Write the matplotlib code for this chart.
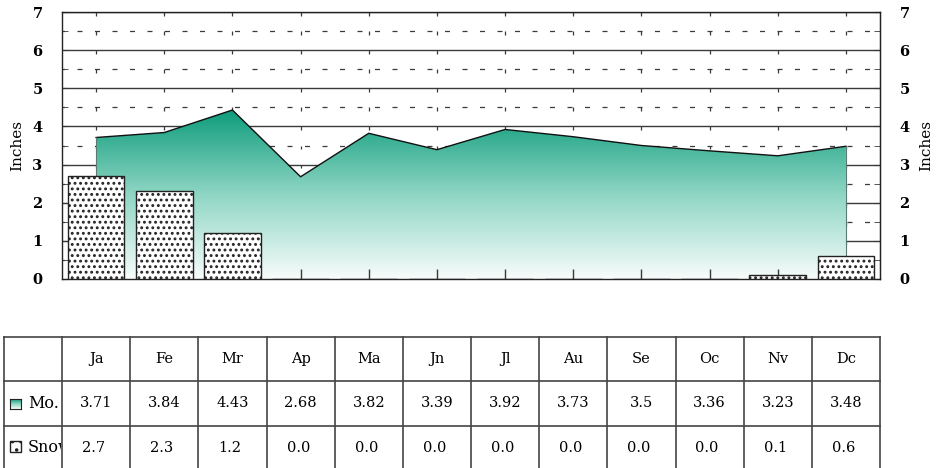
import numpy as np
import matplotlib.pyplot as plt
from matplotlib.colors import LinearSegmentedColormap
from matplotlib.patches import Polygon, Rectangle
from matplotlib.transforms import Bbox, TransformedBbox

months = ["Ja", "Fe", "Mr", "Ap", "Ma", "Jn", "Jl", "Au", "Se", "Oc", "Nv", "Dc"]
monthly = [3.71, 3.84, 4.43, 2.68, 3.82, 3.39, 3.92, 3.73, 3.5, 3.36, 3.23, 3.48]
snow = [2.7, 2.3, 1.2, 0.0, 0.0, 0.0, 0.0, 0.0, 0.0, 0.0, 0.1, 0.6]
row_labels = ["Mo.", "Snow"]

plt.rcParams["font.family"] = ["DejaVu Serif"]
plt.rcParams["hatch.linewidth"] = 1.3

W, H = 945, 468
fig = plt.figure(figsize=(W / 100, H / 100), dpi=100)

# plot area in pixels: x 62..880, y 12..279
L, R, T, B = 62, 880, 12, 279
ax = fig.add_axes([L / W, 1 - B / H, (R - L) / W, (B - T) / H])
n = len(months)
x = np.arange(n)
ax.set_xlim(-0.5, n - 0.5)
ax.set_ylim(0, 7)

teal = LinearSegmentedColormap.from_list("teal", ["#f7fcfb", "#8fd6c4", "#0e9c7c"])
grid_col = "#3a3a3a"

# grid
for lv in range(1, 8):
    ax.axhline(lv, color=grid_col, lw=1.0, zorder=1)
for lv in np.arange(0.5, 7, 1.0):
    ax.axhline(lv, color=grid_col, lw=0.9, ls=(2, (4, 10)), zorder=1)
for lv in np.arange(0.5, 7.01, 0.5):
    ax.vlines(x, lv - 0.1, lv, color=grid_col, lw=0.9, zorder=1)

# area with vertical gradient
verts = [(x[0], 0)] + list(zip(x, monthly)) + [(x[-1], 0)]
poly = Polygon(verts, closed=True, facecolor="none", edgecolor="none")
ax.add_patch(poly)
grad = np.linspace(0, 1, 256).reshape(-1, 1)
im = ax.imshow(grad, cmap=teal, origin="lower", aspect="auto",
               extent=[x[0], x[-1], 0, max(monthly)], zorder=2)
im.set_clip_path(poly)
ax.plot(x, monthly, color="#111111", lw=1.0, zorder=3)
ax.vlines([x[0], x[-1]], 0, [monthly[0], monthly[-1]], color="#5a7a72", lw=0.8, zorder=3)
ax.vlines(x, 0, 0.27, color=grid_col, lw=1.0, zorder=3)

# snow bars
ax.bar(x, snow, width=0.83, facecolor="white", edgecolor="#222222",
       hatch="...", lw=1.0, zorder=4)

ax.set_xticks([])
ax.set_yticks(range(8))
ax.set_yticks(np.arange(0.5, 7, 1.0), minor=True)
ax.tick_params(axis="y", which="both", direction="in", length=4, labelsize=10.5,
               right=True, labelright=True, color=grid_col)
ax.tick_params(axis="y", which="major", pad=14)
for s in ax.spines.values():
    s.set_color("#222222")
    s.set_linewidth(1.0)
for lab in ax.get_yticklabels():
    lab.set_fontweight("bold")
ax.set_ylabel("Inches", fontsize=11, labelpad=6)
ax2 = ax.secondary_yaxis("right")
ax2.set_yticks([])
ax2.set_ylabel("Inches", fontsize=11, labelpad=28)

# table
tx = fig.add_axes([0, 0, 1, 1])
tx.set_xlim(0, W)
tx.set_ylim(H, 0)
tx.axis("off")
cw = (R - L) / n
lines_c = "#444444"
col_edges = [4] + [L + i * cw for i in range(n + 1)]
row_edges = [337, 381, 426, 475]
for ye in row_edges[:-1]:
    tx.plot([4, R], [ye, ye], color=lines_c, lw=1.2)
for xe in col_edges:
    tx.plot([xe, xe], [row_edges[0], H], color=lines_c, lw=1.2)
fs = 10.5
for i, m in enumerate(months):
    cx = L + (i + 0.5) * cw
    tx.text(cx, 359, m, ha="center", va="center", fontsize=fs)
    tx.text(cx, 403, f"{monthly[i]:g}", ha="center", va="center", fontsize=fs)
    tx.text(L + i * cw + 20, 448, f"{snow[i]:.1f}", ha="left", va="center", fontsize=fs)

# row legends
grad_ax = fig.add_axes([10 / W, 1 - 409 / H, 11 / W, 10 / H])
grad_ax.imshow(grad, cmap=teal, origin="lower", aspect="auto")
grad_ax.set_xticks([])
grad_ax.set_yticks([])
for s in grad_ax.spines.values():
    s.set_color("#222222")
tx.add_patch(Rectangle((10, 441), 11, 11, facecolor="white", edgecolor="#222222",
                       hatch="..", lw=1.0))
clip_box = TransformedBbox(Bbox.from_extents(4, 381, L - 1, 471), tx.transData)
for yy, lab in zip([403, 447], row_labels):
    t = tx.text(28, yy, lab, ha="left", va="center", fontsize=11.5, clip_on=True)
    t.set_clip_box(clip_box)
    t.set_clip_path(None)

fig.savefig("out.png", dpi=100)
